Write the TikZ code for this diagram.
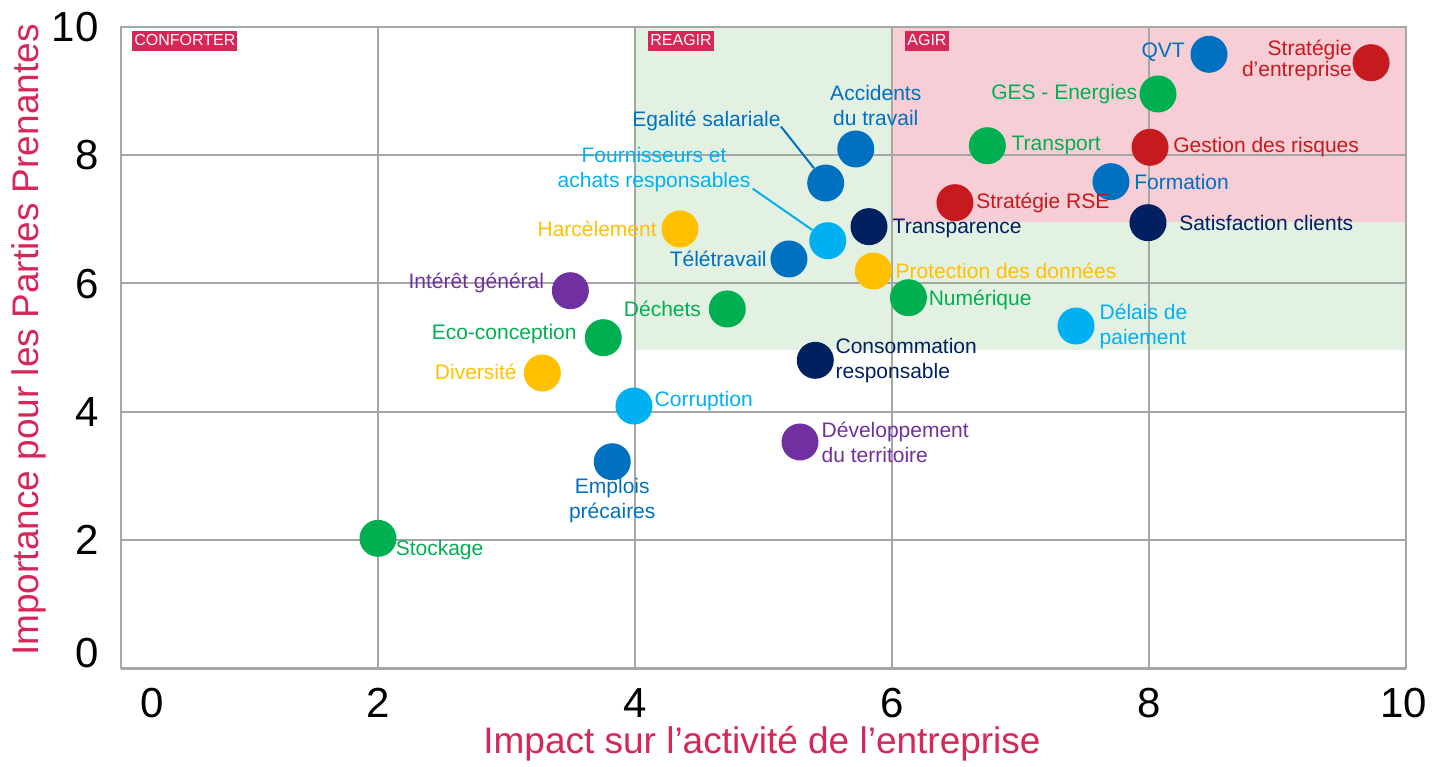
\documentclass[tikz,border=0pt]{standalone}
\usepackage{fontspec}
\setmainfont{Liberation Sans}
\usetikzlibrary{positioning}
\definecolor{tagred}{RGB}{215,38,88}
\definecolor{gridgray}{RGB}{166,166,166}
\definecolor{greenzone}{RGB}{227,241,227}
\definecolor{pinkzone}{RGB}{247,205,214}
\definecolor{c-blue}{HTML}{0070C0}
\definecolor{c-sky}{HTML}{00B0F0}
\definecolor{c-navy}{HTML}{002060}
\definecolor{c-green}{HTML}{00B050}
\definecolor{c-red}{RGB}{198,26,30}
\definecolor{c-yellow}{HTML}{FFC000}
\definecolor{c-purple}{HTML}{7030A0}
\begin{document}
\begin{tikzpicture}[x=64.25pt,y=32.05pt,
  bubble/.style={circle,fill=#1,inner sep=0pt,minimum size=18.5pt},
  txt/.style={text=#1,inner sep=0pt,font=\fontsize{10.5}{12.5}\selectfont},
  tag/.style={fill=tagred,text=white,font=\fontsize{8}{9.6}\selectfont,inner xsep=1pt,
    inner ysep=1.25pt,text height=6pt,text depth=1.5pt,anchor=north west},
  gridline/.style={draw=gridgray,line width=1pt},
  tick/.style={inner sep=0pt,font=\fontsize{21}{25}\selectfont,text depth=0pt},
  axistitle/.style={inner sep=0pt,text=tagred,font=\fontsize{18.5}{22}\selectfont}]
\useasboundingbox (-0.9416,-1.5289) rectangle (10.2179,10.4212);
\fill[greenzone] (4,4.96) rectangle (10,10);
\fill[pinkzone] (6,6.96) rectangle (10,10);
\foreach \v in {2,4,6,8} {
  \draw[gridline] (\v,0) -- (\v,10);
  \draw[gridline] (0,\v) -- (10,\v);
}
\draw[gridline] (0,0) rectangle (10,10);
\draw[gridline,line width=1.5pt] (0,0) -- (10,0);

\node[tag] (tag-conforter) at ([shift={(5.5pt,-2pt)}]0,10) {CONFORTER};
\node[tag] (tag-reagir) at ([shift={(6.5pt,-2pt)}]4,10) {REAGIR};
\node[tag] (tag-agir) at ([shift={(6.5pt,-2pt)}]6,10) {AGIR};

\foreach \v in {2,4,6,8,10}
  \node[tick,anchor=east] (ytick-\v) at ([xshift=-11pt]0,\v) {\v};
\node[tick,anchor=east] (ytick-0) at ([xshift=-11pt]0,0.234) {0};
\node[tick] (xtick-0) at (0.241,-0.55) {0};
\foreach \v in {2,4,6,8}
  \node[tick] (xtick-\v) at (\v,-0.55) {\v};
\node[tick] (xtick-10) at (9.984,-0.55) {10};
\node[axistitle,anchor=base,text height=13.5pt] (title-x) at (4.988,-1.335) {Impact sur l’activité de l’entreprise};
\node[axistitle,rotate=90] (title-y) at (-0.716,5.117) {Importance pour les Parties Prenantes};

\node[bubble=c-blue] (path-qvt) at (8.467,9.574) {};
\node[bubble=c-red] (path-strat) at (9.728,9.443) {};
\node[bubble=c-green] (path-ges) at (8.070,8.955) {};
\node[bubble=c-red] (path-gest) at (8.008,8.123) {};
\node[bubble=c-blue] (path-form) at (7.704,7.587) {};
\node[bubble=c-navy] (path-satis) at (7.992,6.947) {};
\node[bubble=c-green] (path-transport) at (6.742,8.148) {};
\node[bubble=c-red] (path-rse) at (6.490,7.259) {};
\node[bubble=c-navy] (path-transpa) at (5.821,6.885) {};
\node[bubble=c-blue] (path-acc) at (5.718,8.097) {};
\node[bubble=c-blue] (path-egal) at (5.484,7.566) {};
\node[bubble=c-sky] (path-four) at (5.500,6.666) {};
\node[bubble=c-yellow] (path-harc) at (4.350,6.849) {};
\node[bubble=c-blue] (path-tele) at (5.198,6.381) {};
\node[bubble=c-yellow] (path-prot) at (5.855,6.193) {};
\node[bubble=c-green] (path-num) at (6.128,5.777) {};
\node[bubble=c-sky] (path-delai) at (7.432,5.335) {};
\node[bubble=c-purple] (path-inter) at (3.497,5.886) {};
\node[bubble=c-green] (path-dech) at (4.718,5.601) {};
\node[bubble=c-green] (path-eco) at (3.753,5.153) {};
\node[bubble=c-yellow] (path-div) at (3.279,4.602) {};
\node[bubble=c-sky] (path-corr) at (3.992,4.087) {};
\node[bubble=c-navy] (path-conso) at (5.403,4.800) {};
\node[bubble=c-purple] (path-dev) at (5.284,3.526) {};
\node[bubble=c-blue] (path-empl) at (3.823,3.218) {};
\node[bubble=c-green] (path-stock) at (2.000,2.023) {};

\node[txt=c-blue,left=2.5pt of path-qvt,yshift=1.2pt] (text-qvt) {QVT};
\node[txt=c-red,left=0pt of path-strat,yshift=1.3pt,align=right,
  font=\fontsize{10.5}{10.5}\selectfont] (text-strat) {Stratégie\\d’entreprise};
\node[txt=c-green,left=0.75pt of path-ges] (text-ges) {GES - Energies};
\node[txt=c-red,right=2pt of path-gest] (text-gest) {Gestion des risques};
\node[txt=c-blue,right=2pt of path-form] (text-form) {Formation};
\node[txt=c-navy,right=6pt of path-satis] (text-satis) {Satisfaction clients};
\node[txt=c-green,right=2.5pt of path-transport] (text-transport) {Transport};
\node[txt=c-red,right=1pt of path-rse] (text-rse) {Stratégie RSE};
\node[txt=c-navy,right=2.2pt of path-transpa,yshift=-1pt] (text-transpa) {Transparence};
\node[txt=c-blue,above=2pt of path-acc,xshift=10pt,align=center] (text-acc) {Accidents\\du travail};
\node[txt=c-blue,anchor=east] (text-egal) at (5.136,8.534) {Egalité salariale};
\node[txt=c-sky,align=center] (text-four) at (4.148,7.77) {Fournisseurs et\\achats responsables};
\node[txt=c-yellow,left=2pt of path-harc] (text-harc) {Harcèlement};
\node[txt=c-blue,left=1.5pt of path-tele] (text-tele) {Télétravail};
\node[txt=c-yellow,right=1.5pt of path-prot] (text-prot) {Protection des données};
\node[txt=c-green,right=0.5pt of path-num,yshift=-1pt] (text-num) {Numérique};
\node[txt=c-sky,right=2.2pt of path-delai,align=left] (text-delai) {Délais de\\paiement};
\node[txt=c-purple,left=3.5pt of path-inter,yshift=4pt] (text-inter) {Intérêt général};
\node[txt=c-green,left=3.5pt of path-dech] (text-dech) {Déchets};
\node[txt=c-green,left=3.7pt of path-eco,yshift=2pt] (text-eco) {Eco-conception};
\node[txt=c-yellow,left=3.2pt of path-div,yshift=0.6pt] (text-div) {Diversité};
\node[txt=c-sky,right=0.7pt of path-corr,yshift=2.5pt] (text-corr) {Corruption};
\node[txt=c-navy,right=0.5pt of path-conso,align=left] (text-conso) {Consommation\\responsable};
\node[txt=c-purple,right=1.2pt of path-dev,align=left] (text-dev) {Développement\\du territoire};
\node[txt=c-blue,below=-1.5pt of path-empl,align=center] (text-empl) {Emplois\\précaires};
\node[txt=c-green,right=-0.75pt of path-stock,yshift=-6pt] (text-stock) {Stockage};

\draw[c-blue,line width=1pt] (text-egal.base east) -- (path-egal);
\draw[c-sky,line width=1pt] ([shift={(1pt,2pt)}]text-four.south east) -- (path-four);
\end{tikzpicture}
\end{document}
